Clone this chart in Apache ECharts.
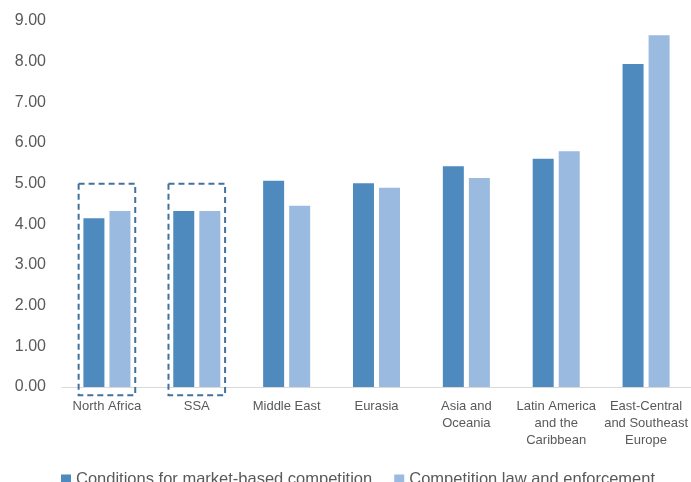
<!DOCTYPE html>
<html>
<head>
<meta charset="utf-8">
<script src="https://cdn.jsdelivr.net/npm/echarts@6/dist/echarts.min.js"></script>
<style>
  html, body { margin: 0; padding: 0; background: #fff; }
  #chart { width: 691px; height: 482px; }
</style>
</head>
<body>
<div id="chart"></div>
<script>
var dom = document.getElementById("chart");
var chart = echarts.init(dom);

// regions
var regions = ['North Africa', 'SSA', 'Middle East', 'Eurasia', 'Asia and\nOceania',
    'Latin America\nand the\nCaribbean', 'East-Central\nand Southeast\nEurope'];
var conditions = [4.15, 4.33, 5.07, 5.01, 5.43, 5.61, 7.94];
var lawEnforcement = [4.33, 4.33, 4.46, 4.90, 5.14, 5.80, 8.65];
var yTicks = [0, 1, 2, 3, 4, 5, 6, 7, 8, 9];
// highlighted regions: [category index, top value, bottom value]
var highlight = [[0, 5.0, -0.2], [1, 5.0, -0.2]];

var textColor = '#595959';
var font = 'Liberation Sans';

var option = {
    animation: false,
    grid: { left: 62, right: -4, top: 21, bottom: 95, containLabel: false },
    legend: {
        left: 56,
        top: 466,
        itemWidth: 10,
        itemHeight: 10,
        itemGap: 22,
        icon: 'rect',
        textStyle: { color: textColor, fontSize: 16.5, fontFamily: font },
        data: ['Conditions for market-based competition', 'Competition law and enforcement']
    },
    xAxis: {
        type: 'category',
        data: regions,
        axisLine: { lineStyle: { color: '#d9d9d9', width: 1 } },
        axisTick: { show: false },
        axisLabel: {
            color: textColor, fontSize: 13, fontFamily: font,
            lineHeight: 17, margin: 11, interval: 0
        }
    },
    yAxis: {
        type: 'value',
        min: yTicks[0],
        max: yTicks[yTicks.length - 1],
        interval: 1,
        splitLine: { show: false },
        axisLine: { show: false },
        axisTick: { show: false },
        axisLabel: {
            color: textColor, fontSize: 16, fontFamily: font, margin: 16,
            formatter: function (v) { return v.toFixed(2); }
        }
    },
    series: [
        {
            name: 'Conditions for market-based competition',
            type: 'bar',
            data: conditions,
            barWidth: 21,
            barGap: '24%',
            itemStyle: { color: '#4f8abe' }
        },
        {
            name: 'Competition law and enforcement',
            type: 'bar',
            data: lawEnforcement,
            barWidth: 21,
            itemStyle: { color: '#9abae0' }
        },
        {
            // dashed boxes round North Africa and SSA
            type: 'custom',
            clip: false,
            silent: true,
            z: 5,
            data: highlight,
            renderItem: function (params, api) {
                var top = api.coord([api.value(0), api.value(1)]);
                var bottom = api.coord([api.value(0), api.value(2)]);
                var band = api.size([1, 0])[0];
                var w = band * 0.63;
                return {
                    type: 'rect',
                    shape: { x: top[0] - w / 2, y: top[1], width: w, height: bottom[1] - top[1] },
                    style: { fill: 'none', stroke: '#41719c', lineWidth: 2, lineDash: [6, 4] }
                };
            }
        }
    ]
};
chart.setOption(option);
</script>
</body>
</html>
